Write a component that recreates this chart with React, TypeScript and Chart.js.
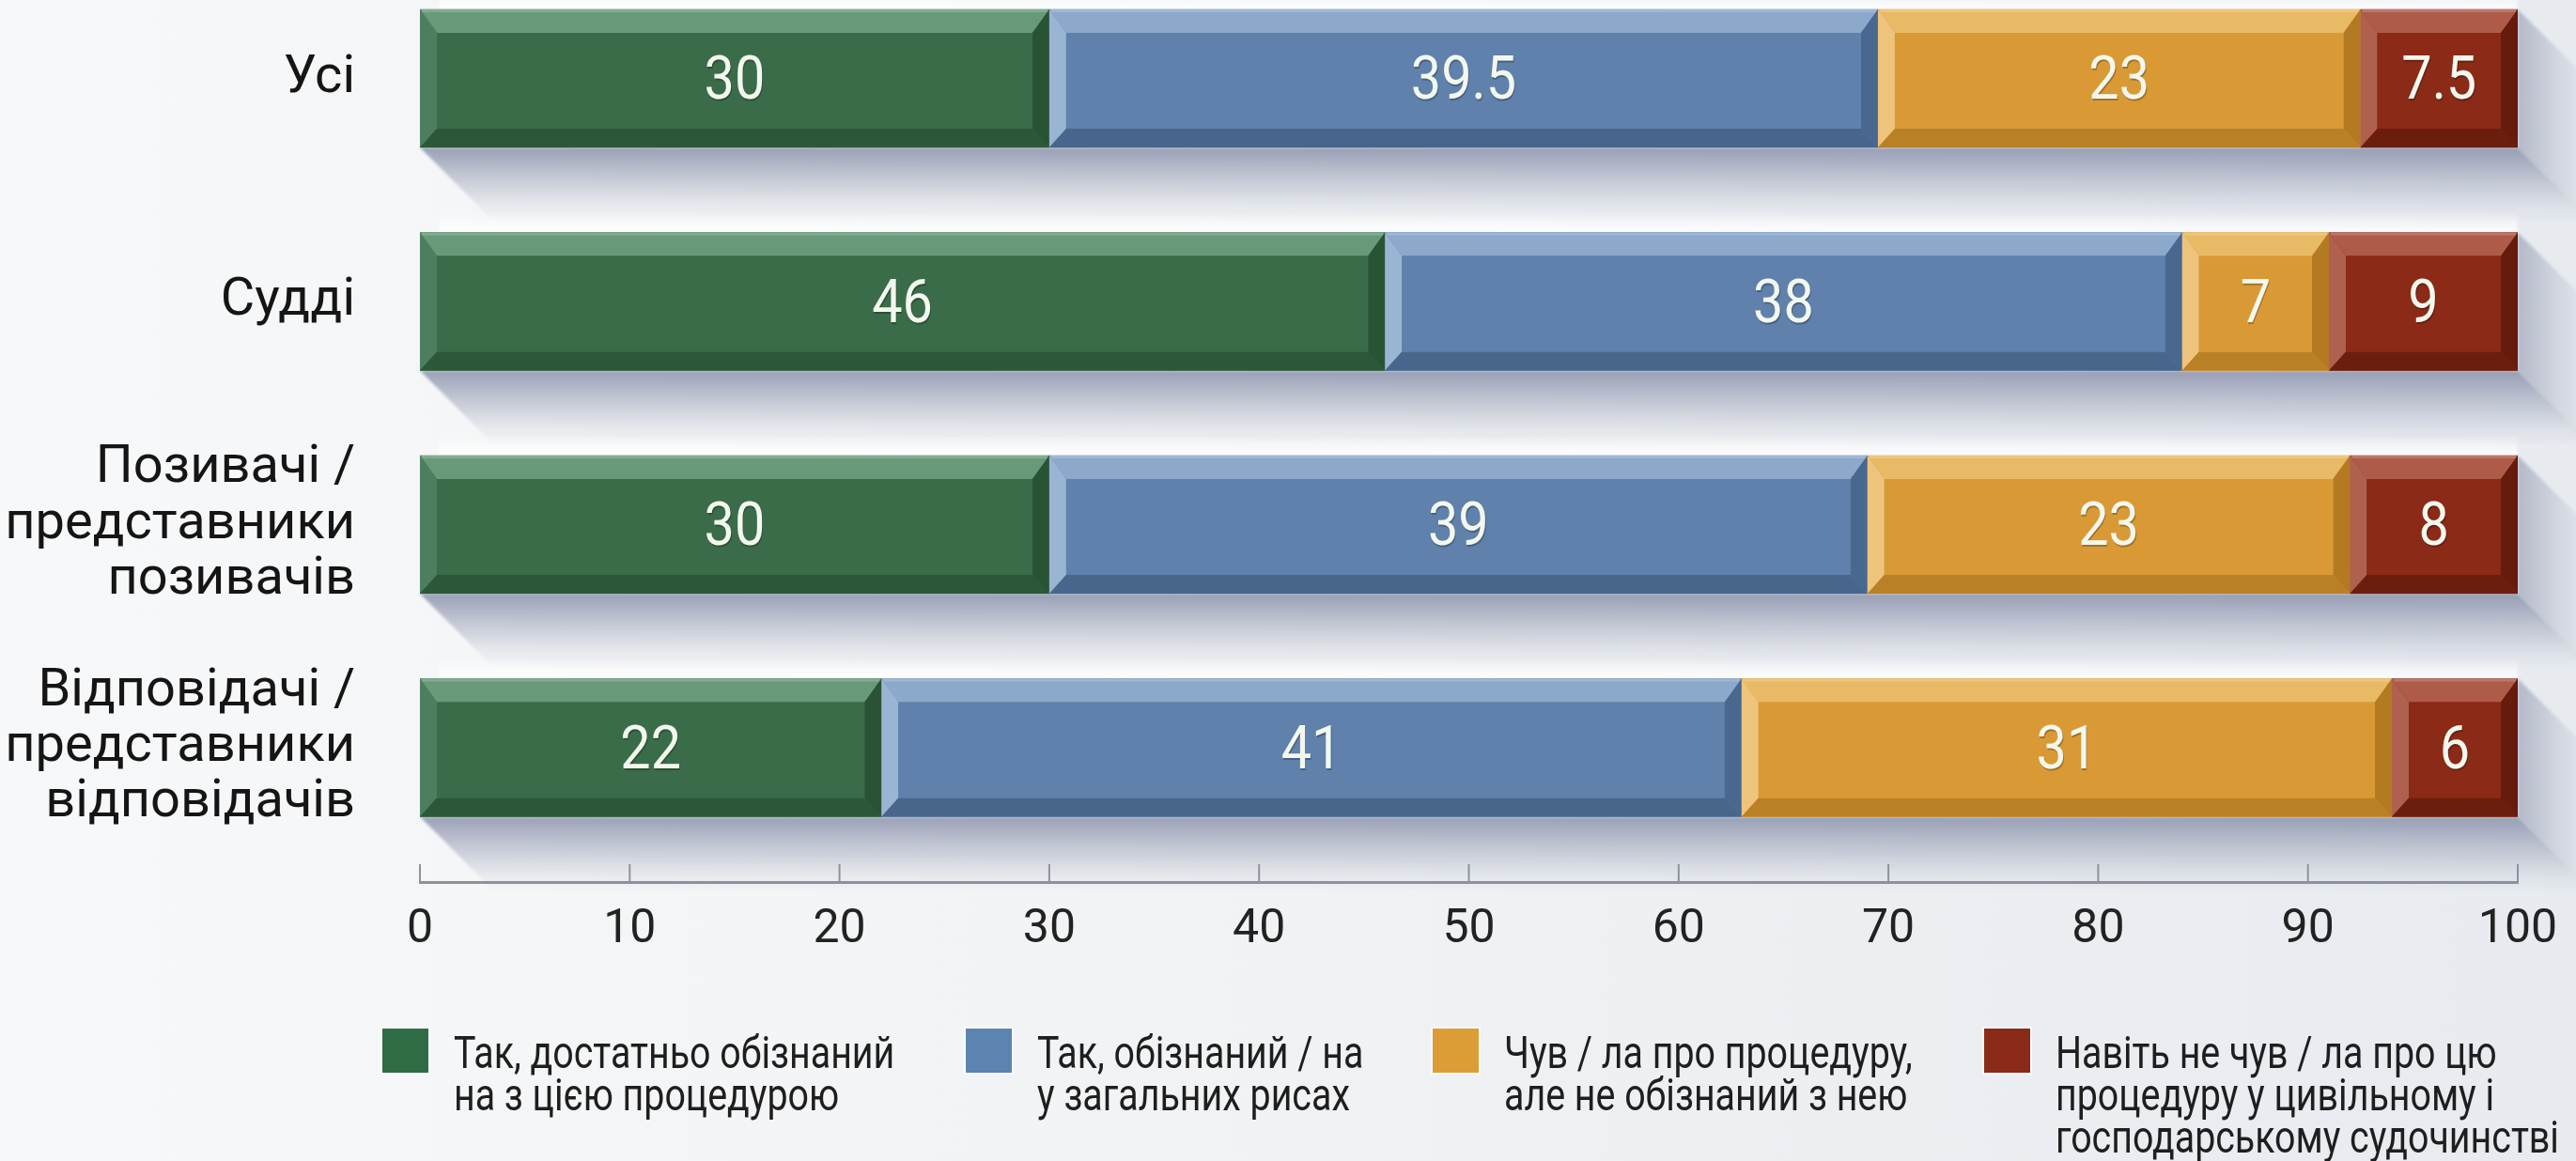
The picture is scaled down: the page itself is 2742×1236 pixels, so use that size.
import React, { useEffect, useRef } from 'react';
import { Chart, registerables } from 'chart.js';

Chart.register(...registerables);

// ---------- data ----------
const categories: string[][] = [
  ['Усі'],
  ['Судді'],
  ['Позивачі /', 'представники', 'позивачів'],
  ['Відповідачі /', 'представники', 'відповідачів'],
];

const seriesLabels: string[][] = [
  ['Так, достатньо обізнаний', 'на з цією процедурою'],
  ['Так, обізнаний / на', 'у загальних рисах'],
  ['Чув / ла про процедуру,', 'але не обізнаний з нею'],
  ['Навіть не чув / ла про цю', 'процедуру у цивільному і', 'господарському судочинстві'],
];

const wellAware = [30, 46, 30, 22];
const generallyAware = [39.5, 38, 39, 41];
const heardOnly = [23, 7, 23, 31];
const neverHeard = [7.5, 9, 8, 6];

const xTickValues = [0, 10, 20, 30, 40, 50, 60, 70, 80, 90, 100];

// ---------- styling ----------
const W = 2742;
const H = 1236;
const PLOT_LEFT = 447;
const PLOT_RIGHT = 2680;
const PLOT_BOTTOM = 939;
const BOTTOM_PAD = 220;
const Y_MIN = -0.3516;
const Y_MAX = 3.602;
const BAR_THICKNESS = 147;
const SHADOW = 80;

const FONT = 'Roboto, "Noto Sans", "DejaVu Sans", sans-serif';

const palettes = [
  { main: '#3a6c49', top: '#689a7a', left: '#4d7f5e', bottom: '#2c5739', right: '#2a5335', legend: '#2f6c45' },
  { main: '#5f81ab', top: '#8ca8ca', left: '#9ab4d4', bottom: '#48668c', right: '#4a688f', legend: '#5d84b0' },
  { main: '#d99a36', top: '#e9ba66', left: '#eec47c', bottom: '#b98026', right: '#b37a22', legend: '#dc9c36' },
  { main: '#8b2a17', top: '#ae5b4a', left: '#b0604f', bottom: '#6b1e0e', right: '#661b0c', legend: '#8a2a18' },
];

const seriesValues = [wellAware, generallyAware, heardOnly, neverHeard];

const LEGEND_X = [407, 1028, 1525, 2112];

function poly(ctx: CanvasRenderingContext2D, color: any, pts: number[][]) {
  ctx.beginPath();
  ctx.moveTo(pts[0][0], pts[0][1]);
  for (let i = 1; i < pts.length; i++) ctx.lineTo(pts[i][0], pts[i][1]);
  ctx.closePath();
  ctx.fillStyle = color;
  ctx.fill();
}

function barRect(el: any) {
  const p = el.getProps(['x', 'y', 'base', 'height'], true);
  return {
    l: Math.min(p.base, p.x),
    r: Math.max(p.base, p.x),
    t: p.y - p.height / 2,
    b: p.y + p.height / 2,
  };
}

const backgroundPlugin = {
  id: 'bgGradient',
  beforeDraw(chart: any) {
    const { ctx, width, height } = chart;
    ctx.save();
    const g = ctx.createLinearGradient(0, 0, width, 0);
    g.addColorStop(0, '#f7f8f9');
    g.addColorStop(0.5, '#f0f2f4');
    g.addColorStop(1, '#e7eaef');
    ctx.fillStyle = g;
    ctx.fillRect(0, 0, width, height);
    ctx.restore();
  },
};

const shadowPlugin = {
  id: 'barShadows',
  beforeDatasetsDraw(chart: any) {
    const ctx: CanvasRenderingContext2D = chart.ctx;
    const metas = chart.data.datasets.map((_: any, i: number) => chart.getDatasetMeta(i));
    for (let i = 0; i < categories.length; i++) {
      let l = Infinity, r = -Infinity, t = 0, b = 0;
      metas.forEach((m: any) => {
        const el = m.data[i];
        if (!el) return;
        const rc = barRect(el);
        l = Math.min(l, rc.l);
        r = Math.max(r, rc.r);
        t = rc.t;
        b = rc.b;
      });
      const D = SHADOW;
      ctx.save();
      ctx.filter = 'blur(1.5px)';
      // soft highlight just above the bar
      const hl = ctx.createLinearGradient(0, t - 22, 0, t);
      hl.addColorStop(0, 'rgba(255,255,255,0)');
      hl.addColorStop(1, 'rgba(255,255,255,0.85)');
      ctx.fillStyle = hl;
      ctx.fillRect(l + 20, t - 22, r - l - 20, 22);
      // bottom cast shadow
      const gv = ctx.createLinearGradient(0, b, 0, b + D);
      gv.addColorStop(0, 'rgba(128,136,164,0.78)');
      gv.addColorStop(0.35, 'rgba(128,136,164,0.45)');
      gv.addColorStop(0.75, 'rgba(128,136,164,0.12)');
      gv.addColorStop(1, 'rgba(128,136,164,0)');
      poly(ctx, gv, [[l, b], [l + D, b + D], [r + D, b + D], [r, b]]);
      // right cast shadow
      const gh = ctx.createLinearGradient(r, 0, r + D, 0);
      gh.addColorStop(0, 'rgba(128,136,164,0.5)');
      gh.addColorStop(0.5, 'rgba(128,136,164,0.22)');
      gh.addColorStop(1, 'rgba(128,136,164,0)');
      poly(ctx, gh, [[r, t], [r + D, t + D], [r + D, b + D], [r, b]]);
      ctx.restore();
    }
  },
};

const bevelPlugin = {
  id: 'bevelBars',
  afterDatasetsDraw(chart: any) {
    const ctx: CanvasRenderingContext2D = chart.ctx;
    const sx = 18, st = 25, sb = 20;
    const labels: { x: number; y: number; text: string }[] = [];
    chart.data.datasets.forEach((ds: any, di: number) => {
      const meta = chart.getDatasetMeta(di);
      const pal = palettes[di];
      meta.data.forEach((el: any, idx: number) => {
        const { l, r, t, b } = barRect(el);
        ctx.save();
        poly(ctx, pal.top, [[l, t], [r, t], [r - sx, t + st], [l + sx, t + st]]);
        poly(ctx, pal.left, [[l, t], [l + sx, t + st], [l + sx, b - sb], [l, b]]);
        poly(ctx, pal.bottom, [[l, b], [l + sx, b - sb], [r - sx, b - sb], [r, b]]);
        poly(ctx, pal.right, [[r, t], [r, b], [r - sx, b - sb], [r - sx, t + st]]);
        ctx.fillStyle = pal.main;
        ctx.fillRect(l + sx, t + st, r - l - 2 * sx, b - t - st - sb);
        ctx.fillStyle = 'rgba(255,255,255,0.18)';
        ctx.fillRect(l + 2, t, r - l - 4, 3);
        ctx.restore();
        labels.push({ x: (l + r) / 2, y: t + st + (b - t - st - sb) / 2 + 3, text: String(ds.data[idx].x) });
      });
    });
    ctx.save();
    ctx.font = `64px ${FONT}`;
    ctx.textAlign = 'center';
    ctx.textBaseline = 'middle';
    labels.forEach((lb) => {
      ctx.save();
      ctx.translate(lb.x, lb.y);
      ctx.scale(0.9, 1);
      ctx.fillStyle = 'rgba(0,0,0,0.25)';
      ctx.fillText(lb.text, 1, 2);
      ctx.fillStyle = '#f3f8ee';
      ctx.fillText(lb.text, 0, 0);
      ctx.restore();
    });
    ctx.restore();
  },
};

const axisTicksPlugin = {
  id: 'upTicks',
  afterDraw(chart: any) {
    const ctx: CanvasRenderingContext2D = chart.ctx;
    const xs = chart.scales.x;
    ctx.save();
    ctx.strokeStyle = '#8d929c';
    ctx.lineWidth = 2;
    xs.ticks.forEach((tk: any) => {
      const px = xs.getPixelForValue(tk.value);
      ctx.beginPath();
      ctx.moveTo(px, xs.top);
      ctx.lineTo(px, xs.top - 19);
      ctx.stroke();
    });
    ctx.restore();
  },
};

const legendPlugin = {
  id: 'multiLineLegend',
  afterDraw(chart: any) {
    const ctx: CanvasRenderingContext2D = chart.ctx;
    ctx.save();
    seriesLabels.forEach((lines, i) => {
      const x = LEGEND_X[i];
      ctx.fillStyle = 'rgba(255,255,255,0.7)';
      ctx.fillRect(x - 2, 1093, 53, 51);
      ctx.fillStyle = palettes[i].legend;
      ctx.fillRect(x, 1095, 49, 47);
      ctx.fillStyle = '#1e1e1e';
      ctx.font = `48px ${FONT}`;
      ctx.textAlign = 'left';
      ctx.textBaseline = 'alphabetic';
      lines.forEach((ln, j) => {
        ctx.save();
        ctx.translate(x + 76, 1137 + j * 45);
        ctx.scale(0.82, 1);
        ctx.fillText(ln, 0, 0);
        ctx.restore();
      });
    });
    ctx.restore();
  },
};

export default function App() {
  const ref = useRef<HTMLCanvasElement>(null);

  useEffect(() => {
    document.body.style.margin = '0';
    const canvas = ref.current;
    if (!canvas) return;
    const chart = new Chart(canvas, {
      type: 'bar',
      data: {
        datasets: seriesValues.map((vals, si) => ({
          label: seriesLabels[si].join(' '),
          data: vals.map((v, i) => ({ x: v, y: i })),
          backgroundColor: palettes[si].main,
          borderWidth: 0,
          barThickness: BAR_THICKNESS,
          stack: 'all',
        })),
      },
      options: {
        indexAxis: 'y',
        animation: false,
        responsive: false,
        maintainAspectRatio: false,
        devicePixelRatio: 1,
        layout: { padding: { left: 0, top: 0, right: W - PLOT_RIGHT, bottom: BOTTOM_PAD } },
        plugins: {
          legend: { display: false },
          tooltip: { enabled: false },
        },
        scales: {
          x: {
            type: 'linear',
            min: 0,
            max: 100,
            stacked: true,
            position: 'bottom',
            offset: false,
            afterBuildTicks: (s: any) => {
              s.ticks = xTickValues.map((v) => ({ value: v }));
            },
            afterFit: (s: any) => {
              s.height = H - PLOT_BOTTOM - BOTTOM_PAD;
              s.paddingLeft = 0;
              s.paddingRight = 0;
            },
            grid: { display: false, drawTicks: false },
            border: { display: true, color: '#8d929c', width: 3 },
            ticks: {
              color: '#222222',
              font: { family: FONT, size: 50 },
              padding: 21,
              maxRotation: 0,
              autoSkip: false,
            },
          },
          y: {
            type: 'linear',
            min: Y_MIN,
            max: Y_MAX,
            bounds: 'data',
            offset: false,
            reverse: true,
            stacked: true,
            afterBuildTicks: (s: any) => {
              s.ticks = categories.map((_, i) => ({ value: i }));
            },
            afterFit: (s: any) => {
              s.width = PLOT_LEFT;
              s.paddingTop = 0;
              s.paddingBottom = 0;
            },
            grid: { display: false, drawTicks: false, offset: false },
            border: { display: false },
            ticks: {
              color: '#151515',
              font: { family: FONT, size: 56, lineHeight: 1.06 },
              padding: PLOT_LEFT - 378,
              autoSkip: false,
              callback: (value: any) => categories[Number(value)] ?? '',
            },
          },
        },
      },
      plugins: [backgroundPlugin, shadowPlugin, bevelPlugin, axisTicksPlugin, legendPlugin],
    } as any);
    return () => chart.destroy();
  }, []);

  return <canvas ref={ref} width={W} height={H} style={{ display: 'block', width: W, height: H }} />;
}
